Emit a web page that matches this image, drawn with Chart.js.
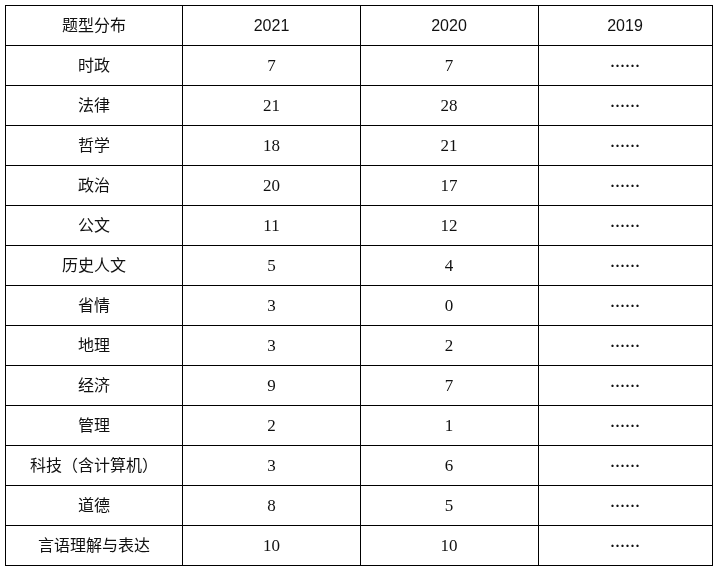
<!DOCTYPE html>
<html><head><meta charset="utf-8">
<script src="https://cdn.jsdelivr.net/npm/chart.js@4/dist/chart.umd.min.js"></script>
<style>html,body{margin:0;padding:0;background:#fff}#wrap{width:718px;height:567px}</style>
</head><body><div id="wrap"><canvas id="c"></canvas></div>
<script>
const headers = ['题型分布','2021','2020','2019'];
const categories = ['时政','法律','哲学','政治','公文','历史人文','省情','地理','经济','管理','科技（含计算机）','道德','言语理解与表达'];
const values2021 = [7,21,18,20,11,5,3,3,9,2,3,8,10];
const values2020 = [7,28,21,17,12,4,0,2,7,1,6,5,10];
const colEdges = [0,178,355,533,707];

const tablePlugin = {
  id:'tableText',
  afterDraw(chart){
    const {ctx, scales:{x,y}} = chart;
    ctx.save();
    ctx.fillStyle='#111';
    ctx.textAlign='center'; ctx.textBaseline='middle';
    const cx = i => x.getPixelForValue((colEdges[i]+colEdges[i+1])/2);
    const cy = r => y.getPixelForValue(r+0.5);
    headers.forEach((h,i)=>{
      ctx.font = i===0 ? '16px "Noto Sans CJK SC"' : '16px "Liberation Sans"';
      ctx.fillText(h, cx(i), cy(0)+(i===0?0:2));
    });
    categories.forEach((c,r)=>{
      ctx.font='16px "Noto Sans CJK SC"';
      ctx.fillText(c, cx(0), cy(r+1));
      ctx.font='17px "Liberation Serif"';
      ctx.fillText(String(values2021[r]), cx(1), cy(r+1)+2);
      ctx.fillText(String(values2020[r]), cx(2), cy(r+1)+2);
      ctx.font='bold 15px "Liberation Serif"';
      ctx.fillText('······', cx(3), cy(r+1)+2);
    });
    ctx.restore();
  }
};

new Chart(document.getElementById('c'),{
  type:'scatter',
  data:{datasets:[{data:[]}]},
  options:{
    responsive:true, maintainAspectRatio:false, animation:false,
    layout:{padding:{left:5,top:5,right:6,bottom:2}},
    plugins:{legend:{display:false},tooltip:{enabled:false}},
    scales:{
      x:{type:'linear',min:0,max:707,
        afterBuildTicks(s){s.ticks=colEdges.map(v=>({value:v}));},
        ticks:{display:false},
        grid:{color:'#000',lineWidth:1,drawTicks:false},
        border:{display:true,color:'#000'}},
      y:{type:'linear',min:0,max:14,reverse:true,
        afterBuildTicks(s){s.ticks=Array.from({length:15},(_,i)=>({value:i}));},
        ticks:{display:false},
        grid:{color:'#000',lineWidth:1,drawTicks:false},
        border:{display:true,color:'#000'}}
    }
  },
  plugins:[tablePlugin]
});
</script></body></html>
